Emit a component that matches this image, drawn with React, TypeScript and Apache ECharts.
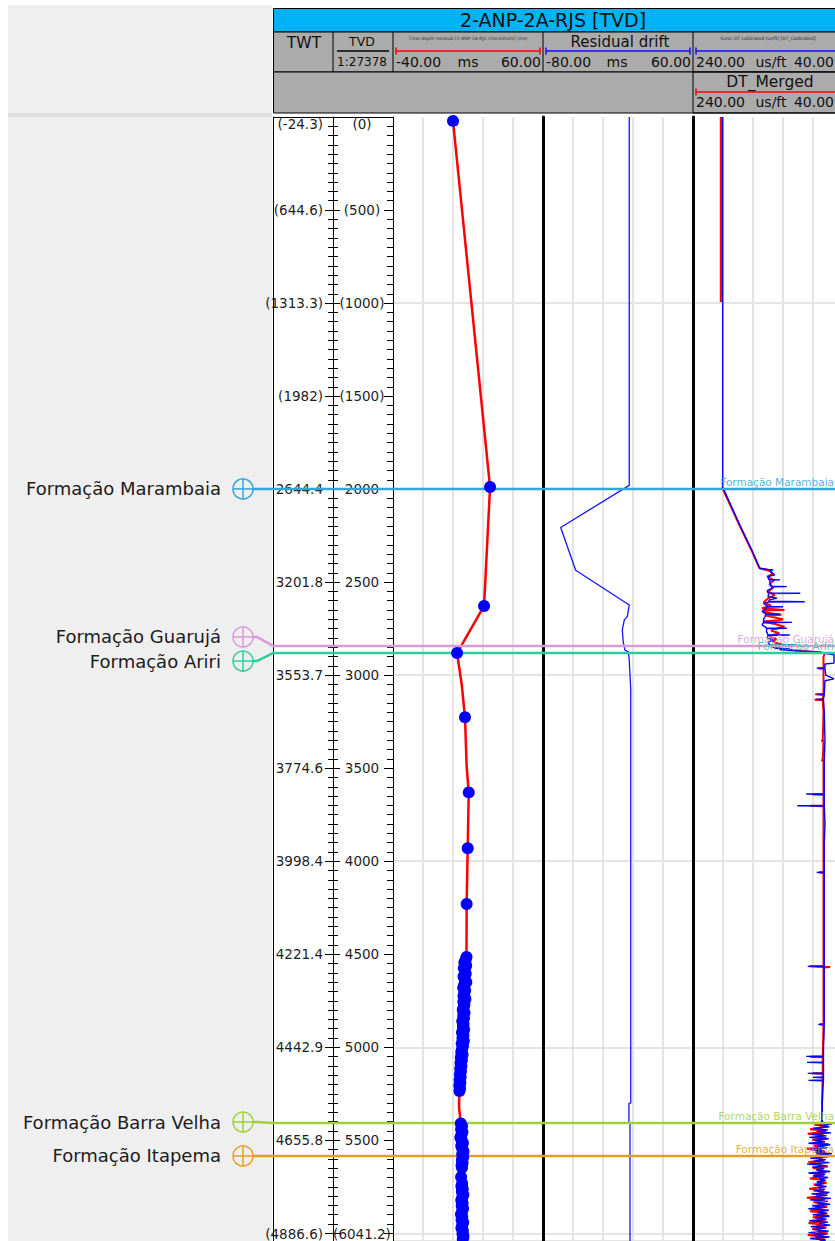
import React, { useEffect, useRef } from 'react';
import * as echarts from 'echarts';

// ---------------- DATA ----------------
const TVD_MAX = 6041.2;
const TVD_TICKS = [0, 500, 1000, 1500, 2000, 2500, 3000, 3500, 4000, 4500, 5000, 5500, 6041.2];
const TVD_LABELS = ['(0)', '(500)', '(1000)', '(1500)', '2000', '2500', '3000', '3500', '4000', '4500', '5000', '5500', '(6041.2)'];
const TWT_LABELS = ['(-24.3)', '(644.6)', '(1313.3)', '(1982)', '2644.4', '3201.8', '3553.7', '3774.6', '3998.4', '4221.4', '4442.9', '4655.8', '(4886.6)'];

const FORMATION_NAMES = ['Formação Marambaia', 'Formação Guarujá', 'Formação Ariri', 'Formação Barra Velha', 'Formação Itapema'];
const FORMATION_TVD = [1999, 2843, 2881, 5407, 5584];

// track scales (header)
const RESIDUAL_RANGE = [-40, 60];
const DRIFT_RANGE = [-80, 60];
const DT_RANGE = [40, 240];

// checkshot residual points [TVD m, ms]
const CHECKSHOT_POINTS = [
  [21, 0], [1989, 24.7], [2628, 20.7], [2881, 2.7], [3226, 8.0], [3630, 10.5], [3930, 9.8], [4230, 9.1],
  [4515, 9.0], [4530, 8.4], [4545, 7.6], [4560, 8.8], [4575, 7.2], [4590, 7.9], [4605, 8.5], [4620, 7.0],
  [4635, 7.8], [4650, 8.9], [4665, 7.4], [4680, 6.8], [4695, 8.1], [4710, 7.5], [4725, 7.0], [4740, 8.3],
  [4755, 6.9], [4770, 7.6], [4785, 7.1], [4800, 6.5], [4815, 7.7], [4830, 6.8], [4845, 7.3], [4860, 6.2],
  [4875, 7.0], [4890, 6.6], [4905, 7.4], [4920, 6.0], [4935, 6.9], [4950, 6.3], [4965, 7.2], [4980, 5.8],
  [4995, 6.6], [5010, 6.0], [5025, 5.5], [5040, 6.4], [5055, 5.2], [5070, 5.9], [5085, 5.0], [5100, 5.6],
  [5115, 4.8], [5130, 5.3], [5145, 4.6], [5160, 5.1], [5175, 4.4], [5190, 4.9], [5205, 4.2], [5220, 4.7],
  [5235, 4.3],
  [5410, 5.2], [5425, 6.0], [5440, 5.4], [5455, 6.3], [5470, 5.6], [5485, 4.9], [5500, 5.8], [5515, 6.6],
  [5530, 5.5], [5545, 6.2], [5560, 7.0], [5575, 6.1], [5590, 6.8], [5605, 5.9], [5620, 6.4], [5635, 5.7],
  [5648, 6.0], [5697, 5.4], [5732, 6.1], [5747, 5.6], [5762, 6.5], [5777, 5.9], [5792, 6.9], [5807, 6.2],
  [5822, 5.5], [5837, 6.4], [5852, 5.8], [5867, 6.7], [5882, 6.0], [5897, 5.3], [5912, 6.2], [5927, 5.7],
  [5942, 6.8], [5957, 6.1], [5972, 5.6], [5987, 6.6], [6002, 6.3], [6017, 7.0], [6032, 6.5],
];
// bends of the red residual curve between checkshots [TVD m, ms]
const TDR_BENDS = [[3049, 5.8], [3492, 9.1], [5320, 4.0]];

// residual drift [TVD m, ms]
const DRIFT = [
  [0, 0.5], [1980, 0.5], [2206, -63.5], [2436, -49.5], [2623, 0.5], [2685, -1.3], [2703, -4.1],
  [2757, -6.0], [2827, -5.0], [2865, -3.5], [2874, -0.4], [2918, 0.5], [3080, 1.9], [5300, 1.9],
  [5302, 0.2], [5405, 0.2], [5407, 1.2], [6041.2, 1.2],
];

// DT curves [TVD m, us/ft]
const DT_BLUE = [
  [0, 200.4], [1989, 200.4], [2196, 177.3], [2327, 161.7], [2425, 151],
  [2432, 140], [2434, 133], [2440, 138], [2461, 131], [2470, 140], [2486, 139], [2488, 124], [2490, 138],
  [2506, 137], [2522, 136], [2524, 115], [2526, 135], [2533, 135], [2545, 141], [2558, 140], [2560, 97],
  [2562, 139], [2578, 140], [2586, 128], [2595, 138], [2603, 139], [2605, 91], [2607, 140], [2614, 146],
  [2630, 140], [2632, 120], [2634, 141], [2650, 145], [2659, 148], [2669, 143], [2671, 124], [2673, 143],
  [2686, 144], [2700, 146], [2714, 145], [2716, 108], [2718, 146], [2730, 148], [2746, 142], [2748, 115],
  [2750, 142], [2766, 142], [2782, 140], [2784, 111], [2786, 140], [2800, 141], [2811, 133], [2822, 140],
  [2836, 138], [2838, 102], [2840, 138], [2856, 130], [2858, 111], [2862, 125], [2870, 100], [2874, 75],
  [2878, 68], [2882, 64],
  [2890, 52], [2935, 52], [2940, 64], [2960, 64], [2962, 75], [2964, 64], [3000, 63], [3020, 52], [3030, 64],
  [3101, 65], [3103, 74], [3105, 65], [3128, 66], [3130, 76], [3132, 66], [3200, 65], [3350, 64], [3460, 65],
  [3637, 65], [3639, 89], [3641, 65], [3700, 65], [3702, 101], [3704, 65], [3800, 64], [3900, 65], [4058, 65],
  [4060, 75], [4062, 65], [4300, 65], [4563, 65], [4565, 87], [4567, 65], [4700, 65], [4875, 65], [4877, 73],
  [4879, 65], [5000, 66], [5047, 66], [5049, 89], [5051, 66], [5079, 66], [5081, 88], [5083, 66], [5138, 66],
  [5140, 87], [5142, 66], [5160, 66], [5162, 80], [5164, 66], [5176, 66], [5178, 86], [5180, 66], [5230, 67],
  [5300, 67.6], [5396, 67.6],
  [5405, 70], [5412, 55], [5420, 72], [5428, 58], [5436, 80], [5444, 60], [5452, 75], [5460, 56], [5468, 82],
  [5476, 62], [5484, 85], [5492, 59], [5500, 78], [5508, 64], [5516, 86], [5524, 57], [5532, 74], [5540, 61],
  [5548, 83], [5556, 66], [5564, 77], [5572, 55], [5580, 73], [5588, 60], [5596, 84], [5604, 63], [5612, 79],
  [5620, 58], [5628, 88], [5636, 62], [5644, 81], [5652, 65], [5660, 76], [5668, 57], [5676, 86], [5684, 64],
  [5692, 80], [5700, 60], [5708, 72], [5716, 63], [5724, 75], [5732, 66], [5740, 77], [5748, 62], [5756, 73],
  [5764, 64], [5772, 79], [5780, 58], [5788, 82], [5796, 61], [5804, 78], [5812, 56], [5820, 84], [5828, 60],
  [5836, 75], [5844, 57], [5852, 81], [5860, 63], [5868, 86], [5876, 59], [5884, 74], [5892, 61], [5900, 80],
  [5908, 58], [5916, 77], [5924, 62], [5932, 85], [5940, 60], [5948, 72], [5956, 57], [5964, 83], [5972, 64],
  [5980, 78], [5988, 59], [5996, 86], [6004, 62], [6012, 79], [6020, 58], [6028, 84], [6036, 63], [6041, 70],
];
const DT_MERGED_TOP = [[0, 202.6], [995, 202.6]];
const DT_MERGED = [
  [1989, 201.4], [2196, 177.8], [2327, 162.2], [2425, 151.5], [2440, 137], [2455, 134], [2470, 141],
  [2490, 132], [2510, 138], [2530, 133], [2550, 140], [2570, 131], [2590, 141], [2610, 146], [2625, 136],
  [2640, 148], [2650, 118], [2652, 147], [2660, 145], [2672, 130], [2675, 122], [2680, 143], [2700, 120],
  [2705, 126], [2712, 147], [2725, 131], [2740, 118], [2745, 124], [2760, 136], [2775, 125], [2790, 138],
  [2805, 129], [2820, 134], [2835, 122], [2850, 131], [2860, 118], [2870, 95], [2878, 72], [2882, 64],
  [2900, 66], [2962, 66], [2964, 73], [2966, 66], [3101, 66], [3103, 77], [3105, 66], [3130, 67], [3132, 78],
  [3134, 67], [3200, 66], [3350, 67], [3352, 69], [3354, 66], [3456, 67], [3458, 69], [3460, 66], [3639, 66],
  [3641, 80], [3643, 66], [3700, 66], [3702, 84], [3704, 66], [4058, 66], [4060, 72], [4062, 66], [4563, 66],
  [4565, 85], [4567, 66], [4569, 57], [4571, 66], [4875, 66], [4877, 71], [4879, 66], [5049, 67], [5051, 84],
  [5053, 67], [5138, 67], [5140, 81], [5142, 67], [5300, 68], [5396, 68],
  [5409, 66], [5417, 78], [5425, 60], [5433, 71], [5441, 84], [5449, 63], [5457, 70], [5465, 87], [5473, 66],
  [5481, 75], [5489, 62], [5497, 81], [5505, 68], [5513, 74], [5521, 59], [5529, 79], [5537, 67], [5545, 88],
  [5553, 70], [5561, 64], [5569, 76], [5577, 61], [5585, 83], [5593, 68], [5601, 72], [5609, 65], [5617, 86],
  [5625, 69], [5633, 74], [5641, 60], [5649, 80], [5657, 67], [5665, 73], [5673, 63], [5681, 78], [5689, 66],
  [5697, 71], [5705, 84], [5713, 65], [5721, 70], [5729, 62], [5737, 79], [5745, 68], [5753, 74], [5761, 85],
  [5769, 66], [5777, 72], [5785, 60], [5793, 76], [5801, 69], [5809, 88], [5817, 64], [5825, 71], [5833, 79],
  [5841, 66], [5849, 73], [5857, 61], [5865, 77], [5873, 68], [5881, 84], [5889, 65], [5897, 72], [5905, 59],
  [5913, 80], [5921, 67], [5929, 74], [5937, 63], [5945, 86], [5953, 69], [5961, 75], [5969, 62], [5977, 81],
  [5985, 68], [5993, 73], [6001, 60], [6009, 87], [6017, 66], [6025, 76], [6033, 64], [6041, 71],
];

// ---------------- STYLE ----------------
const FORMATION_COLORS = ['#33a6d8', '#d89bd9', '#2ccf9c', '#a0d03a', '#e0a028'];
const FORMATION_MARKER_SHIFT = [0, -9, 8, -1, 0];
const FONT = '"DejaVu Sans", Verdana, sans-serif';
const TOP = 117;
const PLOT_H = 1124;
const TRACK_W = 150;
const DT_VISIBLE_W = 142; // last track is cut by the picture edge

const fmtFrom = (labels: string[]) => (v: number) => {
  const i = TVD_TICKS.findIndex((t) => Math.abs(t - v) < 0.01);
  return i >= 0 ? labels[i] : '';
};

function txt(text: string, x: number, y: number, size: number, align = 'center', fill = '#111', vAlign = 'middle') {
  return {
    type: 'text', z: 60, x: 0, y: 0,
    style: { text, x, y, font: `${size}px ${FONT}`, fill, align, textAlign: align, verticalAlign: vAlign, textVerticalAlign: vAlign },
  };
}
function hline(x1: number, x2: number, y: number, color: string, w = 1) {
  return { type: 'line', z: 60, shape: { x1, y1: y, x2, y2: y }, style: { stroke: color, lineWidth: w } };
}
function vline(x: number, y1: number, y2: number, color: string, w = 1) {
  return { type: 'line', z: 60, shape: { x1: x, y1, x2: x, y2 }, style: { stroke: color, lineWidth: w } };
}
function scaleBar(x1: number, x2: number, y: number, color: string, rightTick = true) {
  const els: any[] = [hline(x1, x2, y, color, 1.5), vline(x1, y - 3.5, y + 3.5, color, 1.5)];
  if (rightTick) els.push(vline(x2, y - 3.5, y + 3.5, color, 1.5));
  return els;
}

function buildOption() {
  const HEAD_GRAY = '#ababab';
  const graphic: any[] = [
    { type: 'rect', z: 0, shape: { x: 8, y: 5, width: 264, height: 1236 }, style: { fill: '#efefef' } },
    { type: 'rect', z: 0, shape: { x: 8, y: 113, width: 264, height: 4 }, style: { fill: '#e0e0e0' } },
    { type: 'rect', z: 55, shape: { x: 273.5, y: 8.5, width: 570, height: 23.5 }, style: { fill: '#00b3f4', stroke: '#000', lineWidth: 1 } },
    { type: 'rect', z: 55, shape: { x: 273.5, y: 32, width: 570, height: 40 }, style: { fill: HEAD_GRAY, stroke: '#000', lineWidth: 1 } },
    { type: 'rect', z: 55, shape: { x: 273.5, y: 72, width: 570, height: 41 }, style: { fill: HEAD_GRAY, stroke: '#000', lineWidth: 1 } },
    { type: 'rect', z: 56, shape: { x: 693, y: 72, width: 150, height: 41 }, style: { fill: 'none', stroke: '#000', lineWidth: 1 } },
    vline(333, 32, 72, '#000'), vline(393, 32, 72, '#000'), vline(543, 32, 72, '#000'), vline(693, 32, 72, '#000'),
    hline(273, 393, 117.5, '#000'),
    txt('2-ANP-2A-RJS [TVD]', 553, 20, 19),
    txt('TWT', 304, 43, 15.5),
    txt('TVD', 362, 41, 12.5),
    hline(337, 389, 51, '#000', 1.5),
    txt('1:27378', 362, 62, 12),
    txt('Time-depth residual [2-ANP-2A-RJS Checkshots] (ms)', 468, 38, 4.5, 'center', '#333'),
    ...scaleBar(396, 540, 51, '#ff0000'),
    txt('-40.00', 396, 62, 14, 'left'), txt('ms', 468, 62, 14), txt('60.00', 541, 62, 14, 'right'),
    txt('Residual drift', 620, 42, 15),
    ...scaleBar(546, 690, 51, '#1010ff'),
    txt('-80.00', 546, 62, 14, 'left'), txt('ms', 617, 62, 14), txt('60.00', 691, 62, 14, 'right'),
    txt('Sonic DT calibrated (us/ft) [DT_Calibrated]', 768, 38, 4.5, 'center', '#223'),
    ...scaleBar(696, 843, 51, '#1010ff', false),
    txt('240.00', 696, 62, 14, 'left'), txt('us/ft', 771, 62, 14), txt('40.00', 834, 62, 14, 'right'),
    txt('DT_Merged', 770, 82, 15.5),
    ...scaleBar(696, 843, 92, '#ff0000', false),
    txt('240.00', 696, 102, 14, 'left'), txt('us/ft', 771, 102, 14), txt('40.00', 834, 102, 14, 'right'),
  ];

  const grid = [
    { left: 333, top: TOP, width: 60, height: PLOT_H, outerBoundsMode: 'none' },
    { left: 393, top: TOP, width: TRACK_W, height: PLOT_H, outerBoundsMode: 'none' },
    { left: 543, top: TOP, width: TRACK_W, height: PLOT_H, outerBoundsMode: 'none' },
    { left: 693, top: TOP, width: DT_VISIBLE_W, height: PLOT_H, outerBoundsMode: 'none' },
    { left: 0, top: TOP, width: 835, height: PLOT_H, outerBoundsMode: 'none' },
  ];

  const depthBase = { type: 'value', inverse: true, min: 0, max: TVD_MAX };
  const labelStyle = { color: '#1e1e1e', fontSize: 13.5, fontFamily: FONT, showMinLabel: true, showMaxLabel: true, verticalAlignMinLabel: 'top', verticalAlignMaxLabel: 'bottom' };
  const trackY = (gi: number, lineW: number) => ({
    ...depthBase, gridIndex: gi, interval: 1000, position: 'left',
    axisLine: { show: lineW > 0, lineStyle: { color: '#000', width: lineW } },
    axisTick: { show: false }, axisLabel: { show: false },
    splitLine: { show: true, showMinLine: false, lineStyle: { color: '#e4e4e4', width: 2 } },
  });

  const yAxis: any[] = [
    {
      ...depthBase, gridIndex: 0, interval: 500, position: 'left',
      axisLine: { show: true, lineStyle: { color: '#000', width: 1 } },
      axisTick: { show: true, inside: false, length: 8, lineStyle: { color: '#000' } },
      minorTick: { show: true, splitNumber: 10, length: 5, lineStyle: { color: '#000' } },
      splitLine: { show: false },
      axisLabel: { ...labelStyle, margin: 10, formatter: fmtFrom(TWT_LABELS) },
    },
    {
      ...depthBase, gridIndex: 0, interval: 500, position: 'left',
      axisLine: { show: false },
      axisTick: { show: true, inside: true, length: 7, lineStyle: { color: '#000' } },
      minorTick: { show: true, splitNumber: 10, length: 5, lineStyle: { color: '#000' } },
      splitLine: { show: false },
      axisLabel: { ...labelStyle, inside: true, margin: 29, align: 'center', formatter: fmtFrom(TVD_LABELS) },
    },
    {
      ...depthBase, gridIndex: 0, interval: 500, position: 'right',
      axisLine: { show: true, lineStyle: { color: '#000', width: 1 } },
      axisTick: { show: true, inside: true, length: 9, lineStyle: { color: '#000' } },
      minorTick: { show: true, splitNumber: 10, length: 6, lineStyle: { color: '#000' } },
      splitLine: { show: false }, axisLabel: { show: false },
    },
    {
      ...depthBase, gridIndex: 0, position: 'left', offset: 60,
      axisLine: { show: true, lineStyle: { color: '#000', width: 1 } },
      axisTick: { show: false }, axisLabel: { show: false }, splitLine: { show: false },
    },
    trackY(1, 0),
    trackY(2, 3),
    trackY(3, 3),
    { ...depthBase, gridIndex: 4, show: false },
  ];

  // 5 grid divisions per track (30 px each)
  const gridX = (gi: number, divisions: number) => ({
    type: 'value', gridIndex: gi, min: 0, max: divisions, interval: 1, position: 'bottom',
    axisLine: { show: false }, axisTick: { show: false }, axisLabel: { show: false },
    splitLine: { show: true, showMinLine: false, showMaxLine: false, lineStyle: { color: '#e4e4e4', width: 2 } },
  });
  const dtSpan = DT_RANGE[1] - DT_RANGE[0];
  const dtVisibleMin = DT_RANGE[1] - (dtSpan * DT_VISIBLE_W) / TRACK_W;
  const xAxis: any[] = [
    { type: 'value', gridIndex: 0, min: 0, max: 1, show: false },
    gridX(1, 5),
    { type: 'value', gridIndex: 1, min: RESIDUAL_RANGE[0], max: RESIDUAL_RANGE[1], position: 'top', show: false },
    gridX(2, 5),
    { type: 'value', gridIndex: 2, min: DRIFT_RANGE[0], max: DRIFT_RANGE[1], position: 'top', show: false },
    gridX(3, (5 * DT_VISIBLE_W) / TRACK_W),
    { type: 'value', gridIndex: 3, min: dtVisibleMin, max: DT_RANGE[1], inverse: true, position: 'top', show: false },
    { type: 'value', gridIndex: 4, min: 0, max: 1, show: false },
  ];

  const toXY = (arr: number[][]) => arr.map((p) => [p[1], p[0]]);
  const tdrLine = [...CHECKSHOT_POINTS, ...TDR_BENDS].sort((a, b) => a[0] - b[0]);

  const series: any[] = [
    {
      type: 'line', name: 'Residual', xAxisIndex: 2, yAxisIndex: 4, data: toXY(tdrLine),
      symbol: 'none', lineStyle: { color: '#ff0000', width: 2.5 }, z: 2,
    },
    {
      type: 'scatter', name: 'Checkshots', xAxisIndex: 2, yAxisIndex: 4, data: toXY(CHECKSHOT_POINTS),
      symbolSize: 12, itemStyle: { color: '#0000ff', opacity: 1 }, z: 5,
    },
    {
      type: 'line', name: 'Residual drift', xAxisIndex: 4, yAxisIndex: 5, data: toXY(DRIFT),
      symbol: 'none', lineStyle: { color: '#1414ff', width: 1.3 }, z: 2,
    },
    {
      type: 'line', name: 'DT_Merged', xAxisIndex: 6, yAxisIndex: 6, data: toXY(DT_MERGED_TOP),
      symbol: 'none', lineStyle: { color: '#ff0000', width: 2.5 }, z: 2,
    },
    {
      type: 'line', name: 'DT_Merged', xAxisIndex: 6, yAxisIndex: 6, data: toXY(DT_MERGED),
      symbol: 'none', lineStyle: { color: '#ff0000', width: 2 }, z: 2,
    },
    {
      type: 'line', name: 'DT', xAxisIndex: 6, yAxisIndex: 6, data: toXY(DT_BLUE),
      symbol: 'none', lineStyle: { color: '#0000ff', width: 1.4 }, z: 2,
    },
    {
      type: 'custom', name: 'Formations', xAxisIndex: 7, yAxisIndex: 7, z: 3, clip: false,
      data: FORMATION_TVD.map((d) => [0, d]),
      renderItem: (params: any, api: any) => {
        const i = params.dataIndex;
        const y = api.coord([0, api.value(1)])[1];
        const ym = y + FORMATION_MARKER_SHIFT[i];
        const c = FORMATION_COLORS[i];
        return {
          type: 'group',
          children: [
            { type: 'polyline', shape: { points: [[253, ym], [257, ym], [273, y], [843, y]] }, style: { stroke: c, lineWidth: 2.5, fill: 'none' } },
            { type: 'circle', shape: { cx: 243, cy: ym, r: 10 }, style: { stroke: c, fill: 'none', lineWidth: 1.5 } },
            { type: 'line', shape: { x1: 233, y1: ym, x2: 253, y2: ym }, style: { stroke: c, lineWidth: 1.5 } },
            { type: 'line', shape: { x1: 243, y1: ym - 10, x2: 243, y2: ym + 10 }, style: { stroke: c, lineWidth: 1.5 } },
            {
              type: 'text',
              style: { text: FORMATION_NAMES[i], x: 221, y: ym, font: `18px ${FONT}`, fill: '#1c1c1c', align: 'right', textAlign: 'right', verticalAlign: 'middle', textVerticalAlign: 'middle' },
            },
            {
              type: 'text',
              style: { text: FORMATION_NAMES[i], x: 834, y: y - 1.5, font: `10.5px ${FONT}`, fill: c, opacity: 0.85, align: 'right', textAlign: 'right', verticalAlign: 'bottom', textVerticalAlign: 'bottom' },
            },
          ],
        };
      },
    },
  ];

  return { animation: false, backgroundColor: '#ffffff', graphic, grid, xAxis, yAxis, series };
}

export default function App() {
  const ref = useRef<HTMLDivElement>(null);
  useEffect(() => {
    if (!ref.current) return;
    const chart = echarts.init(ref.current, null, { renderer: 'svg' });
    chart.setOption(buildOption() as any);
    return () => chart.dispose();
  }, []);
  return (
    <div
      ref={ref}
      style={{ position: 'absolute', left: 0, top: 0, width: 835, height: 1241, background: '#fff' }}
    />
  );
}
